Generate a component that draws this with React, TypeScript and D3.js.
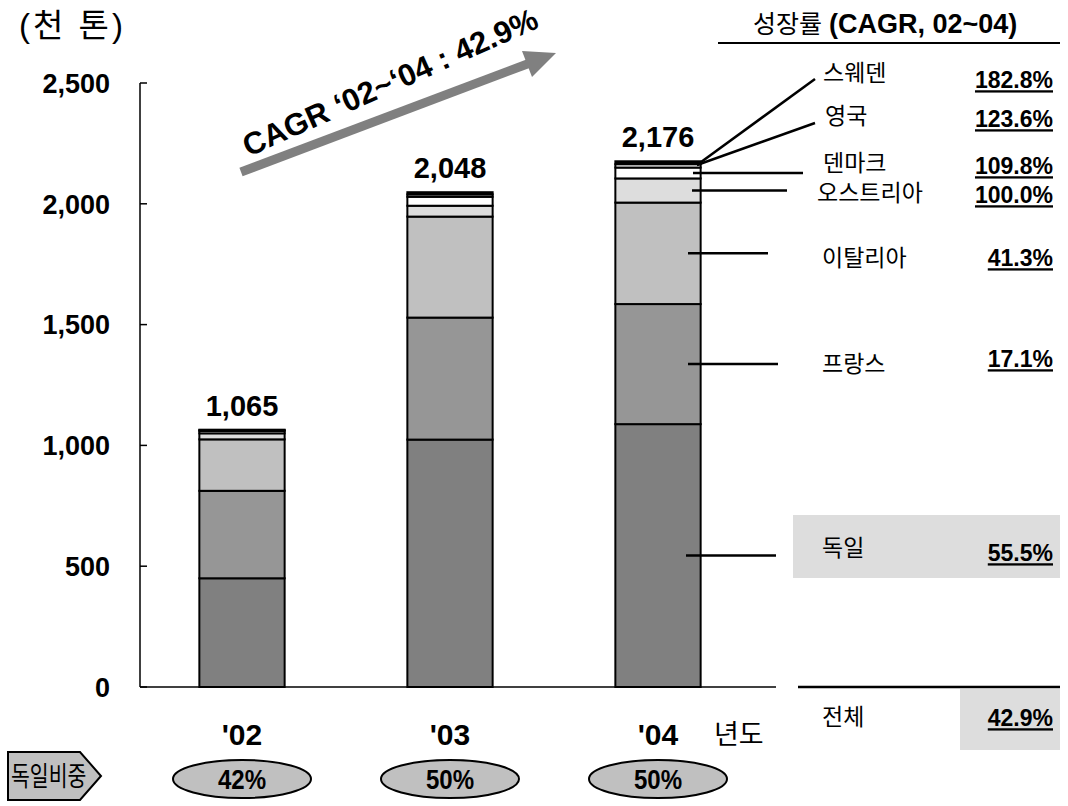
import React from 'react';
import * as d3 from 'd3';

const years = ["'02", "'03", "'04"];
const countries = ['독일', '프랑스', '이탈리아', '오스트리아', '덴마크', '영국', '스웨덴'];
const germany = [450, 1024, 1088];
const france = [362, 505, 497];
const italy = [213, 418, 420];
const austria = [25, 45, 100];
const denmark = [10, 37, 45];
const uk = [3, 10, 14];
const sweden = [2, 9, 12];
const totals = [1065, 2048, 2176];
const germanyShare = ['42%', '50%', '50%'];
const cagr = ['55.5%', '17.1%', '41.3%', '100.0%', '109.8%', '123.6%', '182.8%'];
const yTicks = [0, 500, 1000, 1500, 2000, 2500];

const FONT = "'Liberation Sans', Arial, 'Noto Sans CJK KR', sans-serif";
const fills = ['#808080', '#969696', '#c0c0c0', '#dddddd', '#ffffff', '#ffffff', '#000000'];

// legend layout: label x, label center y, value center y
const legendPos = [
  { lx: 822, ly: 548, vy: 553 },
  { lx: 822, ly: 364, vy: 359 },
  { lx: 822, ly: 258, vy: 258 },
  { lx: 817, ly: 193, vy: 195 },
  { lx: 823, ly: 163, vy: 166 },
  { lx: 825, ly: 116, vy: 119 },
  { lx: 823, ly: 73, vy: 80 },
];

const App = () => {
  const width = 1068;
  const height = 806;

  const series = [germany, france, italy, austria, denmark, uk, sweden];
  const rows = years.map((yr, i) => {
    const r: any = { year: yr };
    countries.forEach((c, k) => (r[c] = series[k][i]));
    return r;
  });
  const stacked = d3.stack<any>().keys(countries)(rows);

  const x = d3
    .scaleBand()
    .domain(years)
    .range([138, 762])
    .paddingInner(0.59)
    .paddingOuter(0.295);
  const y = d3.scaleLinear().domain([0, 2500]).range([687, 83]);
  const fmt = d3.format(',');

  return (
    <svg width={width} height={height} style={{ position: 'absolute', left: 0, top: 0 }} fontFamily={FONT}>
      <rect width={width} height={height} fill="#fff" />
      <text x={19} y={37} fontSize={33} letterSpacing={3}>(천 톤)</text>

      {/* axes */}
      <line x1={140} x2={140} y1={y(2500)} y2={y(0)} stroke="#000" strokeWidth={1.5} />
      <line x1={140} x2={776} y1={y(0)} y2={y(0)} stroke="#000" strokeWidth={1.5} />
      {yTicks.map((t) => (
        <g key={t}>
          <line x1={140} x2={147} y1={y(t)} y2={y(t)} stroke="#000" strokeWidth={1.5} />
          <text x={110} y={y(t)} dy="0.36em" textAnchor="end" fontSize={27} fontWeight="bold">
            {fmt(t)}
          </text>
        </g>
      ))}

      {/* stacked bars */}
      {stacked.map((s, k) => (
        <g key={s.key}>
          {s.map((d, i) => (
            <rect
              key={i}
              x={x(years[i])}
              y={y(d[1])}
              width={x.bandwidth()}
              height={y(d[0]) - y(d[1])}
              fill={fills[k]}
              stroke="#000"
              strokeWidth={2}
            />
          ))}
        </g>
      ))}

      {/* totals */}
      {totals.map((t, i) => (
        <text
          key={i}
          x={(x(years[i]) || 0) + x.bandwidth() / 2}
          y={y(t) - 14}
          textAnchor="middle"
          fontSize={29}
          fontWeight="bold"
        >
          {fmt(t)}
        </text>
      ))}

      {/* x labels */}
      {years.map((yr) => (
        <text
          key={yr}
          x={(x(yr) || 0) + x.bandwidth() / 2}
          y={745}
          textAnchor="middle"
          fontSize={30}
          fontWeight="bold"
        >
          {yr}
        </text>
      ))}
      <text x={714} y={744} fontSize={27}>년도</text>

      {/* CAGR arrow */}
      <line x1={241} y1={172} x2={530} y2={63} stroke="#808080" strokeWidth={9} />
      <path d="M556,53 L522,51 L532,77 Z" fill="#808080" />
      <text
        transform="translate(390,82) rotate(-24)"
        dy="0.35em"
        textAnchor="middle"
        fontSize={31}
        fontWeight="bold"
      >
        CAGR ‘02~‘04 : 42.9%
      </text>

      {/* legend header */}
      <text x={753} y={33} fontSize={25}>
        <tspan>성장률 </tspan>
        <tspan fontWeight="bold" fontSize={27}>(CAGR, 02~04)</tspan>
      </text>
      <line x1={718} x2={1060} y1={43} y2={43} stroke="#000" strokeWidth={2} />

      {/* highlight boxes */}
      <rect x={793} y={515} width={267} height={63} fill="#dddddd" />
      <rect x={960} y={689} width={100} height={61} fill="#dddddd" />
      <line x1={798} x2={1060} y1={687} y2={687} stroke="#000" strokeWidth={2.5} />

      {/* leader lines */}
      {countries.map((c, k) => {
        const d = stacked[k][2];
        const ym = (y(d[0]) + y(d[1])) / 2;
        if (k >= 5) {
          return (
            <line key={c} x1={697} y1={165} x2={815} y2={k === 6 ? 79 : 123} stroke="#000" strokeWidth={2.5} />
          );
        }
        const starts = [686, 688, 688, 692, 693];
        const ends = [776, 778, 768, 787, 803];
        return (
          <line key={c} x1={starts[k]} x2={ends[k]} y1={ym} y2={ym} stroke="#000" strokeWidth={2.5} />
        );
      })}

      {/* legend labels & values */}
      {countries.map((c, k) => (
        <g key={c}>
          <text x={legendPos[k].lx} y={legendPos[k].ly} dy="0.36em" fontSize={23}>
            {c}
          </text>
          <text
            x={1053}
            y={legendPos[k].vy}
            dy="0.36em"
            textAnchor="end"
            fontSize={23}
            fontWeight="bold"
            textDecoration="underline"
          >
            {cagr[k]}
          </text>
        </g>
      ))}
      <text x={822} y={717} dy="0.36em" fontSize={23}>전체</text>
      <text x={1053} y={718} dy="0.36em" textAnchor="end" fontSize={23} fontWeight="bold" textDecoration="underline">
        42.9%
      </text>

      {/* germany share */}
      <path d="M8,752 L80,752 L101,776 L80,800 L8,800 Z" fill="#c0c0c0" stroke="#000" strokeWidth={2} />
      <text transform="translate(11,776) scale(0.76,1)" dy="0.36em" fontSize={27}>독일비중</text>
      {germanyShare.map((s, i) => {
        const cx = (x(years[i]) || 0) + x.bandwidth() / 2;
        return (
          <g key={i}>
            <ellipse cx={cx} cy={779} rx={69} ry={19} fill="#c0c0c0" stroke="#000" strokeWidth={2} />
            <text
              transform={`translate(${cx},779) scale(0.86,1)`}
              dy="0.36em"
              textAnchor="middle"
              fontSize={28}
              fontWeight="bold"
            >
              {s}
            </text>
          </g>
        );
      })}
    </svg>
  );
};

export default App;
